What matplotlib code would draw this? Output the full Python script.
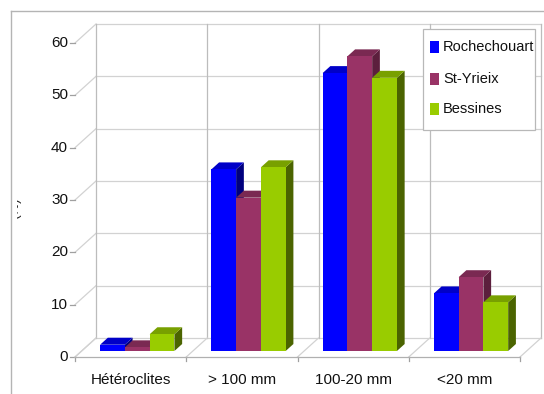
import matplotlib
matplotlib.use("Agg")
import matplotlib.pyplot as plt
from matplotlib.patches import Polygon, Rectangle
from matplotlib.transforms import Bbox
import numpy as np

# ---- data ----
categories = ["Hétéroclites", "> 100 mm", "100-20 mm", "<20 mm"]
series_names = ["Rochechouart", "St-Yrieix", "Bessines"]
rochechouart = [1.2, 34.7, 53.1, 11.0]
st_yrieix = [0.7, 29.3, 56.3, 14.1]
bessines = [3.2, 35.1, 52.2, 9.3]
yticks = [0, 10, 20, 30, 40, 50, 60]

values = [rochechouart, st_yrieix, bessines]
front_colors = ["#0000ff", "#993366", "#99cc00"]
top_colors = ["#0000c8", "#7a2952", "#78a000"]
side_colors = ["#00007e", "#5c1f3d", "#4b6400"]

plt.rcParams['font.family'] = ['Liberation Sans', 'DejaVu Sans']
FS = 10.5
FS_TICK = 11

W, H = 544, 394
fig = plt.figure(figsize=(W / 100, H / 100), dpi=100)
fig.patch.set_facecolor("white")

# back wall axes (pixel placement of the plot area)
bx0, bx1, by_top, by_bot = 96, 541, 24, 338
ax = fig.add_axes([bx0 / W, 1 - by_bot / H, (bx1 - bx0) / W, (by_bot - by_top) / H])
ax.set_xlim(0, len(categories))
ax.set_ylim(0, 60)
ax.axis("off")

px_per_x = (bx1 - bx0) / len(categories)
px_per_y = (by_bot - by_top) / 60.0
# depth vector (back wall -> front edge), in data units
DX = -21 / px_per_x
DY = -19 / px_per_y
F_FRONT = 0.684  # bar front plane
F_BACK = 0.316   # bar back plane

grid_h = "#d2d2d2"
grid_v = "#bcbcbc"
kw = dict(clip_on=False, lw=0.9)

# back wall gridlines
for y in yticks:
    ax.plot([0, len(categories)], [y, y], color=grid_h, zorder=1, **kw)
    # left wall diagonal
    ax.plot([0, DX], [y, y + DY], color=grid_h, zorder=1, **kw)
    # tick mark on front axis
    ax.plot([DX - 5 / px_per_x, DX], [y + DY, y + DY], color="#a0a0a0", zorder=1, **kw)
    ax.text(DX - 7 / px_per_x, y + DY, str(y), ha="right", va="center",
            fontsize=FS_TICK, color="#111111")
for k in range(len(categories) + 1):
    ax.plot([k, k], [0, 60], color=grid_v, zorder=1, **kw)
    ax.plot([k, k + DX], [0, DY], color=grid_h, zorder=1, **kw)
    ax.plot([k + DX, k + DX], [DY, DY - 4 / px_per_y], color="#a0a0a0", zorder=1, **kw)
ax.plot([DX, len(categories) + DX], [DY, DY], color="#b0b0b0", zorder=1, **kw)

for c, name in enumerate(categories):
    ax.text(c + 0.5 + DX, DY - 23 / px_per_y, name, ha="center", va="center",
            fontsize=FS_TICK, color="#111111")

# bars
n = len(series_names)
gap = 0.166
w = (1 - 2 * gap) / n
fx, fy = F_FRONT * DX, F_FRONT * DY
bxo, byo = F_BACK * DX, F_BACK * DY
z = 3
for c in range(len(categories)):
    for i in range(n):
        v = values[i][c]
        x0 = c + gap + i * w
        x1 = x0 + w
        side = Polygon([(x1 + fx, fy), (x1 + fx, v + fy), (x1 + bxo, v + byo), (x1 + bxo, byo)],
                       closed=True, fc=side_colors[i], ec="none", clip_on=False, zorder=z)
        top = Polygon([(x0 + fx, v + fy), (x1 + fx, v + fy), (x1 + bxo, v + byo), (x0 + bxo, v + byo)],
                      closed=True, fc=top_colors[i], ec="none", clip_on=False, zorder=z)
        ax.add_patch(side)
        ax.add_patch(top)
        ax.bar(x0 + fx, v, bottom=fy, width=w, align="edge", color=front_colors[i],
               edgecolor="none", clip_on=False, zorder=z + 0.5)
        z += 1

# overlay in pixel coordinates for frame and legend
ov = fig.add_axes([0, 0, 1, 1], facecolor="none")
ov.set_xlim(0, W)
ov.set_ylim(H, 0)
ov.axis("off")
ov.plot([11, W], [11, 11], color="#b4b4b4", lw=1.0)
ov.plot([11, 11], [11, H], color="#b4b4b4", lw=1.0)

# legend
ov.add_patch(Rectangle((423, 29), 112, 101, fc="white", ec="#b8b8b8", lw=0.9, zorder=5))
rows_y = [47, 79, 109]
for i, name in enumerate(series_names):
    ov.add_patch(Rectangle((430, rows_y[i] - 6), 9, 12, fc=front_colors[i], ec="none", zorder=6))
    ov.text(443, rows_y[i], name, ha="left", va="center", fontsize=FS, color="#111111", zorder=7)

# partially visible axis title (mostly cut off in the original)
t = ov.text(14, 208, "(%)", rotation=90, ha="center", va="center", fontsize=10, color="#222222")
t.set_clip_on(True)
t.set_clip_box(Bbox.from_extents(17, H - 260, 60, H - 150))

fig.savefig("out.png", dpi=100)
